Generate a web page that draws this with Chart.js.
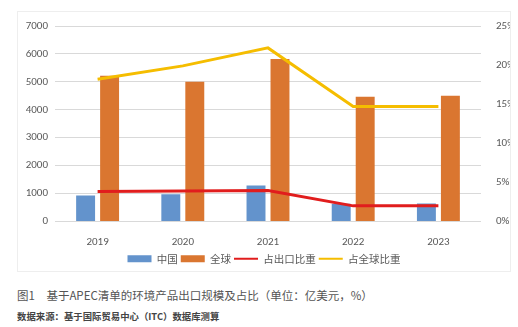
<!DOCTYPE html>
<html>
<head>
<meta charset="utf-8">
<script src="https://cdn.jsdelivr.net/npm/chart.js@4"></script>
<style>
  body { margin: 0; background: #fff; width: 518px; height: 327px; position: relative; overflow: hidden; }
  #frame { position: absolute; left: 17px; top: 11px; width: 492px; height: 259px; border: 1px solid #eeeeee; }
  .cap { position: absolute; left: 17px; font-family: "Noto Sans CJK SC", sans-serif; color: #555; white-space: nowrap; }
  #cap1 { top: 287px; font-size: 11.5px; }
  #cap2 { top: 309px; font-size: 9.4px; font-weight: bold; color: #444; }
</style>
</head>
<body>
<div id="frame"><canvas id="myChart" width="492" height="259"></canvas></div>
<div class="cap" id="cap1">图1　基于APEC清单的环境产品出口规模及占比（单位：亿美元，%）</div>
<div class="cap" id="cap2">数据来源：基于国际贸易中心（ITC）数据库测算</div>
<script>
const years = ['2019', '2020', '2021', '2022', '2023'];
const china = [930, 975, 1290, 635, 645];
const world = [5215, 5000, 5820, 4465, 4500];
const shareExport = [3.85, 3.9, 3.95, 2.0, 2.0];
const shareWorld = [18.2, 19.9, 22.2, 14.7, 14.7];
const leftTicks = [0, 7000, 1000];
const rightTicks = [0, 25, 5];

const ctx = document.getElementById('myChart').getContext('2d');
const tickFont = { family: 'Calibri, Carlito, "Liberation Sans", "Noto Sans", sans-serif', size: 11 };

const myChart = new Chart(ctx, {
  data: {
    labels: years,
    datasets: [
      { type: 'bar', label: '中国', data: china, backgroundColor: '#6393cc', yAxisID: 'y', order: 1,
        categoryPercentage: 0.563, barPercentage: 0.79 },
      { type: 'bar', label: '全球', data: world, backgroundColor: '#da7630', yAxisID: 'y', order: 1,
        categoryPercentage: 0.563, barPercentage: 0.79 },
      { type: 'line', label: '占出口比重', data: shareExport, borderColor: '#e11d1d', borderWidth: 3,
        pointRadius: 0, tension: 0, yAxisID: 'y1', order: 0 },
      { type: 'line', label: '占全球比重', data: shareWorld, borderColor: '#f5bd00', borderWidth: 3,
        pointRadius: 0, tension: 0, yAxisID: 'y1', order: 0 }
    ]
  },
  options: {
    responsive: false,
    animation: false,
    layout: { padding: { top: 14, bottom: -3, left: 0, right: 0 } },
    plugins: {
      tooltip: { enabled: false },
      legend: {
        position: 'bottom',
        labels: {
          usePointStyle: true,
          pointStyleWidth: 24,
          boxHeight: 7,
          padding: 3,
          color: '#595959',
          font: { family: '"Noto Sans CJK SC", sans-serif', size: 10.5 },
          generateLabels: chart => chart.data.datasets.map((ds, i) => ({
            text: ds.label,
            datasetIndex: i,
            fillStyle: ds.type === 'bar' ? ds.backgroundColor : ds.borderColor,
            strokeStyle: ds.type === 'bar' ? ds.backgroundColor : ds.borderColor,
            lineWidth: ds.type === 'bar' ? 0 : 2,
            pointStyle: ds.type === 'bar' ? 'rect' : 'line',
            fontColor: '#595959'
          }))
        }
      }
    },
    scales: {
      x: {
        grid: { display: false },
        border: { display: false },
        ticks: { color: '#595959', font: tickFont, padding: 6 },
        afterFit: s => { s.height = 29; }
      },
      y: {
        position: 'left',
        min: leftTicks[0], max: leftTicks[1],
        ticks: { stepSize: leftTicks[2], color: '#595959', font: tickFont, padding: 7, callback: v => String(v) },
        grid: { color: '#d9d9d9', drawTicks: false },
        border: { display: false },
        afterFit: s => { s.width = 37; }
      },
      y1: {
        position: 'right',
        min: rightTicks[0], max: rightTicks[1],
        ticks: { stepSize: rightTicks[2], color: '#595959', font: tickFont, padding: 7, callback: v => v + '%' },
        grid: { display: false },
        border: { display: false },
        afterFit: s => { s.width = 29; }
      }
    }
  }
});
</script>
</body>
</html>
